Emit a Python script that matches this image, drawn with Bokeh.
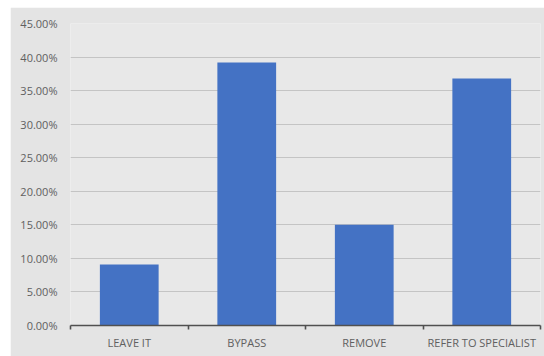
from bokeh.plotting import figure
from bokeh.models import Range1d, FixedTicker, ColumnDataSource
from bokeh.embed import file_html
from bokeh.resources import INLINE

categories = ["LEAVE IT", "BYPASS", "REMOVE", "REFER TO SPECIALIST"]
values = [9.1, 39.2, 15.0, 36.8]  # percent
y_ticks = [0, 5, 10, 15, 20, 25, 30, 35, 40, 45]

centers = [i + 0.5 for i in range(len(categories))]
src = ColumnDataSource(dict(x=centers, top=values, cat=categories))

p = figure(width=534, height=349, output_backend="svg", toolbar_location=None,
           x_range=Range1d(0, len(categories)), y_range=Range1d(0, 45),
           min_border_left=60, min_border_right=4, min_border_top=16, min_border_bottom=31)
p.margin = (7, 0, 0, 10)
p.background_fill_color = "#e8e8e8"
p.border_fill_color = "#e4e4e4"
p.outline_line_color = None

p.vbar(x="x", top="top", width=0.5, bottom=0, source=src, fill_color="#4472C4", line_color=None)

# y axis
p.yaxis.ticker = FixedTicker(ticks=y_ticks)
p.yaxis.major_label_overrides = {t: f"{t:.2f}%" for t in y_ticks}
p.yaxis.axis_line_color = None
p.yaxis.major_tick_line_color = None
p.yaxis.minor_tick_line_color = None
p.yaxis.major_tick_out = 0
p.yaxis.major_tick_in = 0
p.yaxis.major_label_standoff = 13
p.yaxis.major_label_text_font = "Open Sans"
p.yaxis.major_label_text_font_size = "11px"
p.yaxis.major_label_text_color = "#606060"

p.ygrid.grid_line_color = "#c4c4c4"
p.ygrid.grid_line_width = 1
p.xgrid.grid_line_color = None

# x axis
p.xaxis.ticker = FixedTicker(ticks=centers, minor_ticks=list(range(len(categories) + 1)))
p.xaxis.major_label_overrides = {c: n for c, n in zip(centers, categories)}
p.xaxis.axis_line_color = "#505050"
p.xaxis.axis_line_width = 1.6
p.xaxis.major_tick_line_color = None
p.xaxis.major_tick_out = 0
p.xaxis.major_tick_in = 0
p.xaxis.minor_tick_line_color = "#505050"
p.xaxis.minor_tick_line_width = 1.6
p.xaxis.minor_tick_out = 4
p.xaxis.minor_tick_in = 0
p.xaxis.major_label_standoff = 5
p.xaxis.major_label_text_font = "Open Sans"
p.xaxis.major_label_text_font_size = "11px"
p.xaxis.major_label_text_color = "#606060"

open("out.html", "w").write(file_html(p, INLINE))
